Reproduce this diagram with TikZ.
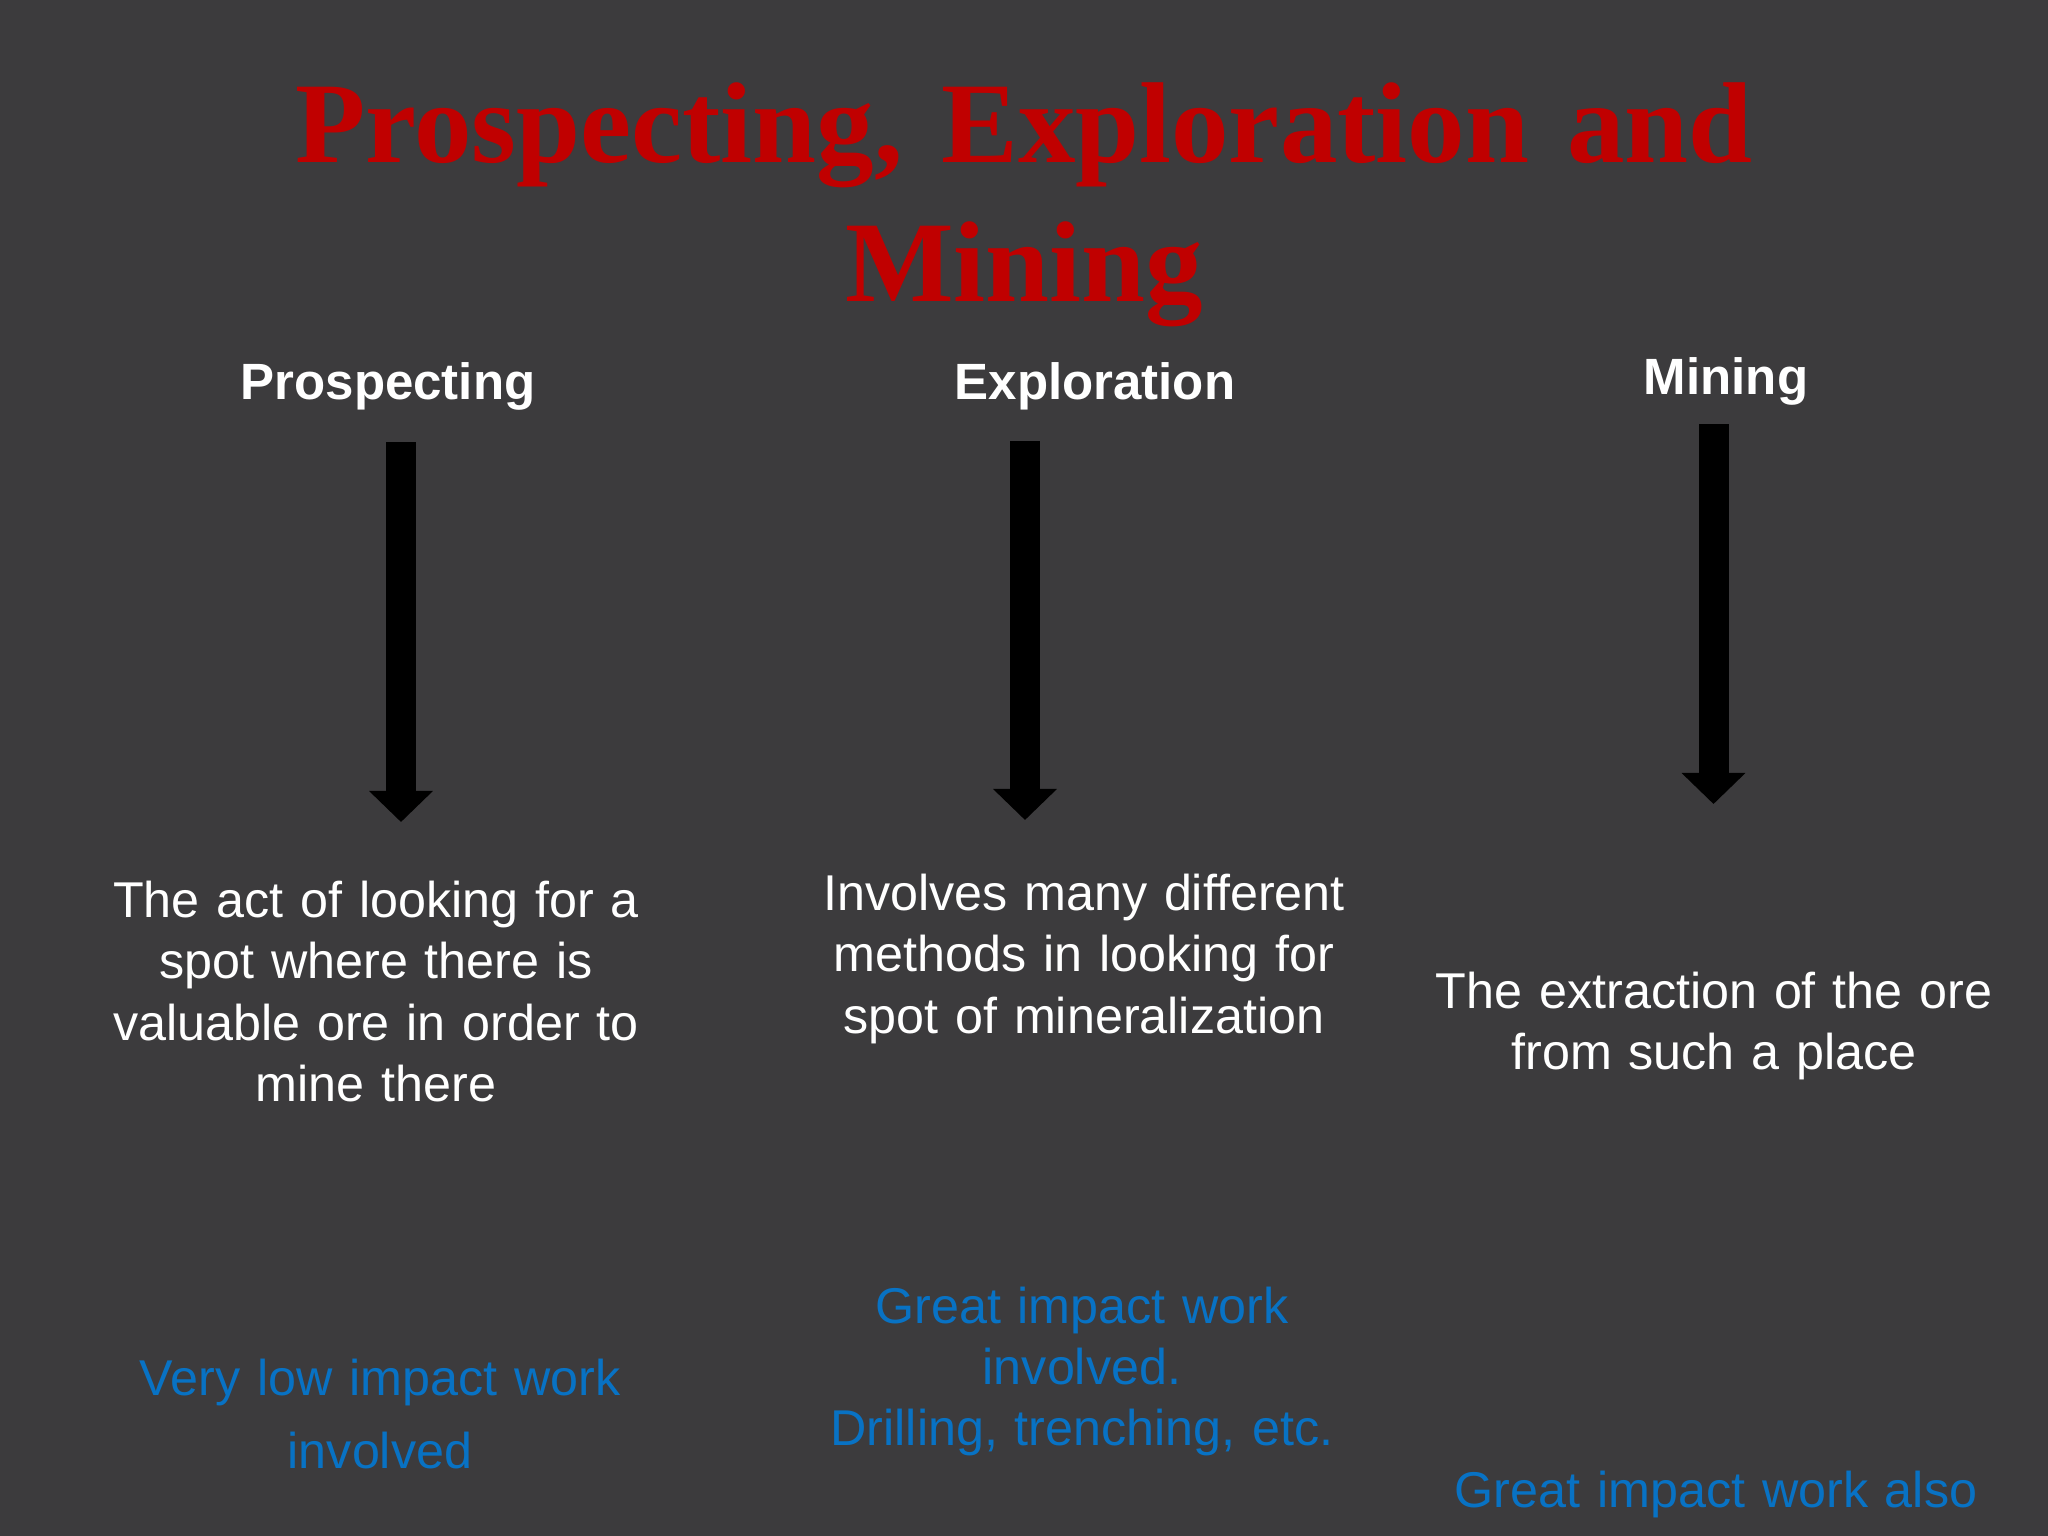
\documentclass[tikz,border=0pt]{standalone}
\usepackage{fontspec}
\setmainfont{Liberation Sans}
\newfontfamily\titlefont{Liberation Serif}
\usetikzlibrary{arrows.meta}
\definecolor{bgc}{RGB}{60,59,61}
\definecolor{titlered}{RGB}{192,0,0}
\definecolor{impactblue}{RGB}{8,114,196}
\tikzset{
  headtxt/.style={anchor=base, inner sep=0pt, text=white, font={\fontsize{14.5}{17.5}\selectfont\bfseries}},
  bodytxt/.style={anchor=base, inner sep=0pt, text=white, text width=6.4cm, align=center, font={\fontsize{14.3}{17.5}\selectfont}},
  bluetxt/.style={anchor=base, inner sep=0pt, text=impactblue, text width=6.4cm, align=center, font={\fontsize{14.3}{17.4}\selectfont}},
  bigarrow/.style={draw=black, line width=0.30cm, -{Triangle[width=0.62cm,length=0.31cm]}}
}
\begin{document}
\begin{tikzpicture}[x=0.01cm, y=-0.01cm]
\useasboundingbox (0,0) rectangle (2048,1536);
\fill[bgc] (0,0) rectangle (2048,1536);
% title
\node (title) [anchor=base, inner sep=0pt, text=titlered, text width=18cm, align=center,
  font={\fontsize{32.7}{39.8}\selectfont\titlefont\bfseries}] at (1024,162)
  {Prospecting, Exploration and\\Mining};
% headings
\node (h1) [headtxt] at (388,399) {Prospecting};
\node (h2) [headtxt] at (1095,399) {Exploration};
\node (h3) [headtxt] at (1726,394) {Mining};
% arrow end points
\coordinate (a1s) at (401,442);
\coordinate (a1e) at (401,822);
\coordinate (a2s) at (1025,441);
\coordinate (a2e) at (1025,820);
\coordinate (a3s) at (1713.5,424);
\coordinate (a3e) at (1713.5,804);
\draw[bigarrow] (a1s) -- (a1e);
\draw[bigarrow] (a2s) -- (a2e);
\draw[bigarrow] (a3s) -- (a3e);
% descriptions
\node (d1) [bodytxt] at (376,917) {The act of looking for a\\spot where there is\\valuable ore in order to\\mine there};
\node (d2) [bodytxt] at (1084,910) {Involves many different\\methods in looking for\\spot of mineralization};
\node (d3) [bodytxt] at (1714,1008) {The extraction of the ore\\from such a place};
% impact notes
\node (i1) [bluetxt, font={\fontsize{14.3}{20.8}\selectfont}] at (380,1395) {Very low impact work\\involved};
\node (i2) [bluetxt] at (1082,1323) {Great impact work\\involved.\\Drilling, trenching, etc.};
\node (i3) [bluetxt] at (1716,1507) {Great impact work also};
\end{tikzpicture}
\end{document}
